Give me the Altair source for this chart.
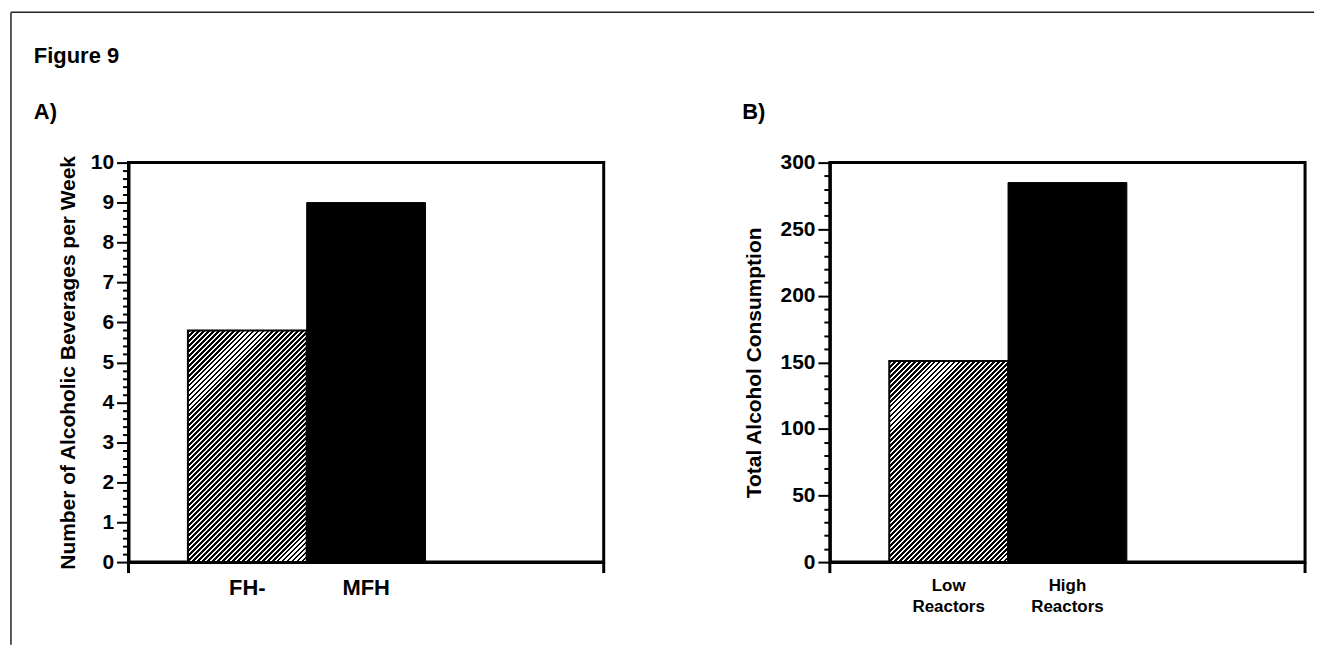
import altair as alt
import pandas as pd

# Panel A: drinks per week by family history group
groups_a = ["FH-", "MFH"]
drinks_per_week = [5.8, 9.0]

# Panel B: total alcohol consumption by reactor group
groups_b = ["Low Reactors", "High Reactors"]
total_consumption = [151, 285]

W, H = 477, 401
FONT = "Liberation Sans"


def hatch(w, h, period=5.0, ink=2.9):
    """Diagonal '////' hatching built from a hard-stop linear gradient.

    The gradient vector is given in bounding-box units and chosen so that
    its iso-lines run at 45 degrees on screen for a w x h box.
    """
    span = w + h
    c = span / (w * w + h * h)
    stops = []
    pos = 0.0
    while pos < span:
        a = pos / span
        b = min((pos + ink) / span, 1.0)
        e = min((pos + period) / span, 1.0)
        stops += [
            alt.GradientStop(color="black", offset=a),
            alt.GradientStop(color="black", offset=b),
            alt.GradientStop(color="white", offset=b),
            alt.GradientStop(color="white", offset=e),
        ]
        pos += period
    return alt.LinearGradient(gradient="linear", stops=stops,
                              x1=0, y1=0, x2=c * w, y2=c * h)


def label(one, text, x, y, size=22):
    return one.mark_text(
        text=text, align="left", baseline="alphabetic", font=FONT,
        fontSize=size, fontWeight="bold", color="black",
    ).encode(x=alt.value(x), y=alt.value(y))


def panel(groups, values, ymax, minor, major, ytitle, tag, tag_x,
          title_x_px, label_size, label_pad, two_line, frame=False):
    df = pd.DataFrame({"group": groups, "value": values})
    base = alt.Chart(df)
    x_axis = alt.Axis(
        title=None, ticks=False, tickSize=0, labelAngle=0,
        labelFontSize=label_size, labelPadding=label_pad,
        labelFont=FONT, labelFontWeight="bold", labelColor="black",
        domainColor="black", domainWidth=3,
        labelExpr="split(datum.label, ' ')" if two_line else "datum.label",
        labelLineHeight=21,
    )
    x = alt.X("group:N", sort=groups, axis=x_axis,
              scale=alt.Scale(paddingInner=0, paddingOuter=1, align=0.25))
    ticks = [round(i * minor, 6) for i in range(int(round(ymax / minor)) + 1)]
    y_axis = alt.Axis(
        title=ytitle, values=ticks, tickCount=500, grid=False,
        labelExpr=f"datum.value % {major} === 0 ? format(datum.value, 'd') : ''",
        labelOverlap=False, labelFontSize=21, labelFont=FONT,
        labelFontWeight="bold", labelColor="black", labelPadding=3,
        tickSize={"condition": {"test": f"datum.value % {major} !== 0", "value": 6},
                  "value": 12},
        tickColor="black", tickWidth=2, domainColor="black", domainWidth=3,
        titleFont=FONT, titleFontSize=21, titleFontWeight="bold",
        titleColor="black", titleX=title_x_px, titleBaseline="bottom",
    )
    y = alt.Y("value:Q", axis=y_axis,
              scale=alt.Scale(domain=[0, ymax], nice=False, zero=True))

    bar_w = W / 4
    hatched_h = values[0] / ymax * H
    hatched = base.transform_filter(alt.datum.group == groups[0]).mark_bar(
        fill=hatch(bar_w, hatched_h), stroke="black", strokeWidth=2
    ).encode(x=x, y=y)
    solid = base.transform_filter(alt.datum.group == groups[1]).mark_bar(
        color="black", stroke="black", strokeWidth=1
    ).encode(x=x, y=y)

    one = alt.Chart(pd.DataFrame({"k": [0]}))
    end_ticks = [
        one.mark_rule(color="black", strokeWidth=3).encode(
            x=alt.value(px), y=alt.value(H), y2=alt.value(H + 11))
        for px in (0, W)
    ]
    layers = [hatched, solid] + end_ticks + [label(one, tag, tag_x, -44)]
    if frame:
        layers += [
            label(one, "Figure 9", tag_x, -100),
            one.mark_rule(color="#222", strokeWidth=1.5).encode(
                x=alt.value(-118), y=alt.value(-151), y2=alt.value(484)),
            one.mark_rule(color="#222", strokeWidth=1.5).encode(
                x=alt.value(-118), x2=alt.value(1190), y=alt.value(-151)),
        ]
    return alt.layer(*layers).properties(width=W, height=H)


chart_a = panel(
    groups_a, drinks_per_week, 10, 0.2, 1,
    "Number of Alcoholic Beverages per Week", "A)", -95,
    -50, 22, 16, False, frame=True,
)
chart_b = panel(
    groups_b, total_consumption, 300, 10, 50,
    "Total Alcohol Consumption", "B)", -88,
    -66, 17, 16, True,
)

chart = alt.hconcat(chart_a, chart_b, spacing=227, bounds="flush").properties(
    padding={"left": 8, "top": 8, "right": 0, "bottom": 0},
    background="white",
).configure_view(stroke="black", strokeWidth=3)

chart.save("out.html", embed_options={"renderer": "svg", "actions": False})
